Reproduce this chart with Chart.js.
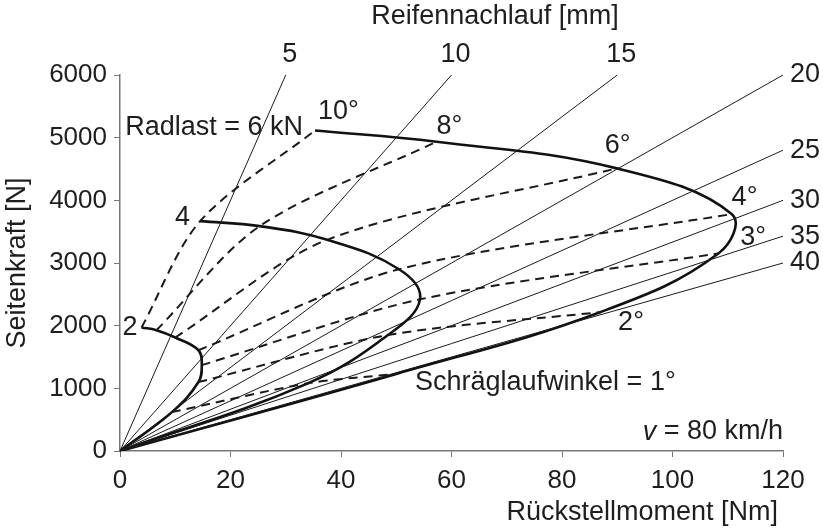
<!DOCTYPE html>
<html>
<head>
<meta charset="utf-8">
<script src="https://cdn.jsdelivr.net/npm/chart.js@4"></script>
<style>
  html, body { margin: 0; padding: 0; background: #fff; }
</style>
</head>
<body>
<canvas id="myChart" width="823" height="529"></canvas>
<script>
const ctx = document.getElementById("myChart");

// Schräglaufwinkel [°] – Reihenfolge der Punkte auf jeder Radlast-Kurve
const winkel = [1, 2, 3, 4, 6, 8, 10];

// Rückstellmoment [Nm] und Seitenkraft [N] je Radlast
const moment2kN = [9.4, 14.2, 14.8, 14.2, 10.0, 6.6, 3.9];
const kraft2kN = [620, 1100, 1370, 1608, 1811, 1928, 1971];

const moment4kN = [34, 48.5, 54.3, 50.5, 37.5, 25.3, 14.5];
const kraft4kN = [1080, 1850, 2420, 2900, 3370, 3589, 3668];

const moment6kN = [50, 86.9, 108.3, 110.7, 89.9, 57.3, 35.3];
const kraft6kN = [1230, 2215, 3152, 3780, 4510, 4935, 5115];

// Reifennachlauf [mm] der Strahlen durch den Ursprung
const nachlauf = [5, 10, 15, 20, 25, 30, 35, 40];

const xMax = 120;
const yMax = 6000;

const schrift = "'Liberation Sans', Arial, sans-serif";

const punkte = (m, f) => [{ x: 0, y: 0 }].concat(m.map((v, i) => ({ x: v, y: f[i] })));

// Nachlauf-Strahl: F = M / n, begrenzt durch den Diagrammrand
const strahl = (n) => {
  const m = Math.min(xMax, (yMax * n) / 1000);
  return [{ x: 0, y: 0 }, { x: m, y: (m * 1000) / n }];
};

const datasets = [];

nachlauf.forEach((n) => {
  datasets.push({
    data: strahl(n),
    borderColor: "#1a1a1a",
    borderWidth: 1,
    pointRadius: 0,
    showLine: true,
    clip: false,
  });
});

// Linien gleichen Schräglaufwinkels (gestrichelt)
winkel.forEach((w, i) => {
  datasets.push({
    data: [
      { x: moment2kN[i], y: kraft2kN[i] },
      { x: moment4kN[i], y: kraft4kN[i] },
      { x: moment6kN[i], y: kraft6kN[i] },
    ],
    borderColor: "#1a1a1a",
    borderWidth: 2,
    borderDash: [9, 6],
    pointRadius: 0,
    showLine: true,
    tension: 0.3,
  });
});

// Radlast-Kurven (durchgezogen)
[
  punkte(moment2kN, kraft2kN),
  punkte(moment4kN, kraft4kN),
  punkte(moment6kN, kraft6kN),
].forEach((d) => {
  datasets.push({
    data: d,
    borderColor: "#111",
    borderWidth: 2.6,
    pointRadius: 0,
    showLine: true,
    tension: 0.4,
  });
});

const px = (chart, x, y) => [
  chart.scales.x.getPixelForValue(x),
  chart.scales.y.getPixelForValue(y),
];

const beschriftung = {
  id: "beschriftung",
  afterDraw(chart) {
    const c = chart.ctx;
    c.save();
    c.fillStyle = "#1e1e1e";
    c.font = "27px " + schrift;
    c.textBaseline = "middle";

    // Achsentitel
    c.textAlign = "center";
    c.fillText("Reifennachlauf [mm]", 495, 17);
    c.textAlign = "right";
    c.fillText("Rückstellmoment [Nm]", 778, 513);
    c.save();
    c.translate(18, 263);
    c.rotate(-Math.PI / 2);
    c.textAlign = "center";
    c.fillText("Seitenkraft [N]", 0, 0);
    c.restore();

    // Nachlauf-Werte an den Strahlenden
    nachlauf.forEach((n) => {
      const e = strahl(n)[1];
      const [x, y] = px(chart, e.x, e.y);
      if (e.y >= yMax && e.x < xMax) {
        c.textAlign = "center";
        c.fillText(String(n), x + 4, y - 20);
      } else {
        c.textAlign = "left";
        c.fillText(String(n), 790, y);
      }
    });

    // Radlasten
    let p = px(chart, moment6kN[6], kraft6kN[6]);
    c.textAlign = "right";
    c.fillText("Radlast = 6 kN", p[0] - 12, p[1] - 3);
    p = px(chart, moment4kN[6], kraft4kN[6]);
    c.fillText("4", p[0] - 10, p[1] - 4);
    p = px(chart, moment2kN[6], kraft2kN[6]);
    c.fillText("2", p[0] - 4, p[1]);

    // Schräglaufwinkel an der 6-kN-Kurve
    c.textAlign = "left";
    const lage = { 10: [3, -19], 8: [0, -15], 6: [-12, -23], 4: [0, -17], 3: [22, -16], 2: [18, 10] };
    winkel.forEach((w, i) => {
      if (!lage[w]) return;
      const q = px(chart, moment6kN[i], kraft6kN[i]);
      c.fillText(w + "°", q[0] + lage[w][0], q[1] + lage[w][1]);
    });
    c.fillText("Schräglaufwinkel = 1°", 415, 383);

    // Geschwindigkeit
    c.textAlign = "right";
    const rest = " = 80 km/h";
    c.fillText(rest, 783, 432);
    const b = c.measureText(rest).width;
    c.font = "italic 27px " + schrift;
    c.fillText("v", 783 - b, 432);
    c.restore();
  },
};

new Chart(ctx, {
  type: "scatter",
  data: { datasets },
  plugins: [beschriftung],
  options: {
    responsive: false,
    animation: false,
    devicePixelRatio: 1,
    layout: { padding: { top: 75, right: 40, left: 0, bottom: 0 } },
    plugins: { legend: { display: false }, tooltip: { enabled: false } },
    scales: {
      x: {
        type: "linear",
        min: 0,
        max: xMax,
        ticks: {
          stepSize: 20,
          padding: 8,
          color: "#1e1e1e",
          font: { size: 26, family: schrift },
          callback: (v) => String(v),
        },
        grid: { drawOnChartArea: false, drawTicks: true, tickLength: 6, color: "#777" },
        border: { color: "#777", width: 1.5 },
        afterFit: (s) => { s.height = 78; },
      },
      y: {
        type: "linear",
        min: 0,
        max: yMax,
        ticks: {
          stepSize: 1000,
          padding: 7,
          color: "#1e1e1e",
          font: { size: 26, family: schrift },
          callback: (v) => String(v),
        },
        grid: { drawOnChartArea: false, drawTicks: true, tickLength: 6, color: "#777" },
        border: { color: "#777", width: 1.5 },
        afterFit: (s) => { s.width = 120; },
      },
    },
  },
});
</script>
</body>
</html>
